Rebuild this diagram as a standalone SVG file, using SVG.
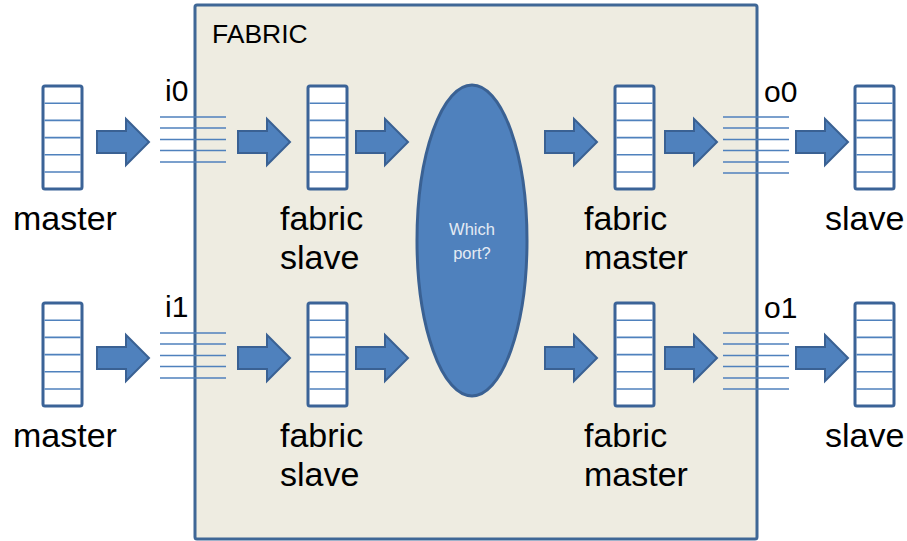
<svg xmlns="http://www.w3.org/2000/svg" width="907" height="541" viewBox="0 0 907 541">
<defs>
<style>
.q{fill:#ffffff;stroke:#3b6397;stroke-width:3}
.ql{stroke:#4f81bd;stroke-width:1.6}
.pl{stroke:#4f81bd;stroke-width:1.6}
.arr{fill:#4f81bd;stroke:#3a6193;stroke-width:2;stroke-linejoin:miter}
.lbl{font-family:"Liberation Sans",Arial,sans-serif;font-size:34px;fill:#000}
.port{font-family:"Liberation Sans",Arial,sans-serif;font-size:30px;fill:#000}
.wp{font-family:"Liberation Sans",Arial,sans-serif;font-size:16.5px;fill:#e4ebf4}
</style>
<g id="queue">
<rect class="q" x="0" y="0" width="39" height="103" rx="2"/>
<line class="ql" x1="1.5" y1="17.2" x2="37.5" y2="17.2"/>
<line class="ql" x1="1.5" y1="34.4" x2="37.5" y2="34.4"/>
<line class="ql" x1="1.5" y1="51.6" x2="37.5" y2="51.6"/>
<line class="ql" x1="1.5" y1="68.8" x2="37.5" y2="68.8"/>
<line class="ql" x1="1.5" y1="86" x2="37.5" y2="86"/>
</g>
<path id="blk" class="arr" d="M0,-11 H29 V-23 L52,0 L29,23 V11 H0 Z"/>
<g id="lines5">
<line class="pl" x1="0" y1="0" x2="66" y2="0"/>
<line class="pl" x1="0" y1="11" x2="66" y2="11"/>
<line class="pl" x1="0" y1="22.5" x2="66" y2="22.5"/>
<line class="pl" x1="0" y1="33.5" x2="66" y2="33.5"/>
<line class="pl" x1="0" y1="45" x2="66" y2="45"/>
</g>
<g id="lines6">
<line class="pl" x1="0" y1="0" x2="66" y2="0"/>
<line class="pl" x1="0" y1="11" x2="66" y2="11"/>
<line class="pl" x1="0" y1="22.5" x2="66" y2="22.5"/>
<line class="pl" x1="0" y1="33.5" x2="66" y2="33.5"/>
<line class="pl" x1="0" y1="45" x2="66" y2="45"/>
<line class="pl" x1="0" y1="56" x2="66" y2="56"/>
</g>
</defs>
<rect width="907" height="541" fill="#ffffff"/>

<g id="fabric">
<rect x="195" y="5" width="562" height="534" rx="2" fill="#eeece1" stroke="#3f6796" stroke-width="3"/>
<text x="212" y="43" font-family="Liberation Sans, Arial, sans-serif" font-size="26.5" fill="#000">FABRIC</text>
</g>

<g id="master0">
<use href="#queue" x="43" y="86"/>
<text class="lbl" x="13" y="230">master</text>
</g>
<g id="master1">
<use href="#queue" x="43" y="303"/>
<text class="lbl" x="13" y="447">master</text>
</g>

<g id="port-i0">
<use href="#lines5" x="160" y="117"/>
<text class="port" x="165" y="101">i0</text>
</g>
<g id="port-i1">
<use href="#lines5" x="160" y="333"/>
<text class="port" x="165" y="317">i1</text>
</g>

<g id="fabric-slave0">
<use href="#queue" x="308" y="86"/>
<text class="lbl" x="280" y="230">fabric</text>
<text class="lbl" x="280" y="269">slave</text>
</g>
<g id="fabric-slave1">
<use href="#queue" x="308" y="303"/>
<text class="lbl" x="280" y="447">fabric</text>
<text class="lbl" x="280" y="486">slave</text>
</g>

<g id="router">
<ellipse cx="472" cy="240.5" rx="55" ry="155.5" fill="#4f81bd" stroke="#3a6193" stroke-width="3"/>
<text class="wp" x="472" y="235" text-anchor="middle">Which</text>
<text class="wp" x="472" y="259" text-anchor="middle">port?</text>
</g>

<g id="fabric-master0">
<use href="#queue" x="615" y="86"/>
<text class="lbl" x="584" y="230">fabric</text>
<text class="lbl" x="584" y="269">master</text>
</g>
<g id="fabric-master1">
<use href="#queue" x="615" y="303"/>
<text class="lbl" x="584" y="447">fabric</text>
<text class="lbl" x="584" y="486">master</text>
</g>

<g id="port-o0">
<use href="#lines6" x="723" y="117"/>
<text class="port" x="764" y="102">o0</text>
</g>
<g id="port-o1">
<use href="#lines6" x="723" y="333"/>
<text class="port" x="764" y="318">o1</text>
</g>

<g id="slave0">
<use href="#queue" x="855" y="86"/>
<text class="lbl" x="825" y="230">slave</text>
</g>
<g id="slave1">
<use href="#queue" x="855" y="303"/>
<text class="lbl" x="825" y="447">slave</text>
</g>

<g id="connectors">
<use href="#blk" x="97" y="142"/>
<use href="#blk" x="238" y="142"/>
<use href="#blk" x="356" y="142"/>
<use href="#blk" x="545" y="142"/>
<use href="#blk" x="665" y="142"/>
<use href="#blk" x="796" y="142"/>
<use href="#blk" x="97" y="358"/>
<use href="#blk" x="238" y="358"/>
<use href="#blk" x="356" y="358"/>
<use href="#blk" x="545" y="358"/>
<use href="#blk" x="665" y="358"/>
<use href="#blk" x="796" y="358"/>
</g>
</svg>
